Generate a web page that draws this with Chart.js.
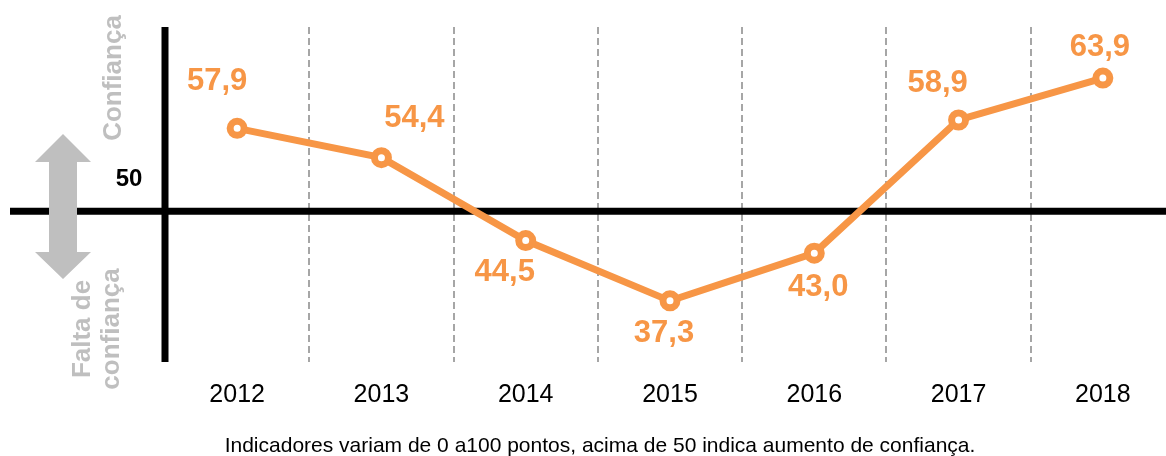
<!DOCTYPE html>
<html>
<head>
<meta charset="utf-8">
<script src="https://cdn.jsdelivr.net/npm/chart.js@4.4.1/dist/chart.umd.min.js"></script>
<style>
html, body { margin: 0; padding: 0; overflow: hidden; background: #fff; }
#wrap { width: 1166px; height: 456px; overflow: hidden; }
</style>
</head>
<body>
<div id="wrap"><canvas id="confChart" width="1175" height="456"></canvas></div>
<script>
var years = ['2012', '2013', '2014', '2015', '2016', '2017', '2018'];
var confidence = [57.9, 54.4, 44.5, 37.3, 43.0, 58.9, 63.9];
var yMin = 30;
var yMax = 70;
// the source draws its "50" line a little under the data's 50
var baseline = 48;
var baselineText = '50';
var upperText = 'Confiança';
var lowerText = ['Falta de', 'confiança'];
var caption = 'Indicadores variam de 0 a100 pontos, acima de 50 indica aumento de confiança.';

var orange = '#f79646';
var grey = '#bfbfbf';
var fontFamily = '"Liberation Sans", Arial, sans-serif';

Chart.defaults.font.family = fontFamily;

function fmt(v) {
    return v.toFixed(1).replace('.', ',');
}

var decor = {
    id: 'decor',
    beforeDatasetsDraw: function(chart) {
        var ctx = chart.ctx;
        var area = chart.chartArea;
        var y = chart.scales.y.getPixelForValue(baseline);
        ctx.save();
        ctx.strokeStyle = '#000';
        ctx.lineWidth = 7;
        ctx.beginPath();
        ctx.moveTo(10, y);
        ctx.lineTo(chart.width, y);
        ctx.moveTo(area.left, area.top);
        ctx.lineTo(area.left, area.bottom);
        ctx.stroke();
        ctx.restore();
    },
    afterDatasetsDraw: function(chart, args, opts) {
        var ctx = chart.ctx;
        var meta = chart.getDatasetMeta(0);
        ctx.save();
        ctx.fillStyle = orange;
        ctx.font = 'bold 31px ' + fontFamily;
        ctx.textAlign = 'center';
        ctx.textBaseline = 'middle';
        meta.data.forEach(function(pt, i) {
            var off = opts.offsets[i];
            ctx.fillText(fmt(confidence[i]), pt.x + off[0], pt.y + off[1]);
        });
        ctx.restore();
    },
    afterDraw: function(chart) {
        var ctx = chart.ctx;
        var yBase = chart.scales.y.getPixelForValue(baseline);
        ctx.save();

        // double arrow
        ctx.fillStyle = grey;
        ctx.beginPath();
        ctx.moveTo(63, 134);
        ctx.lineTo(91, 162);
        ctx.lineTo(77, 162);
        ctx.lineTo(77, 252);
        ctx.lineTo(91, 252);
        ctx.lineTo(63, 279);
        ctx.lineTo(35, 252);
        ctx.lineTo(49, 252);
        ctx.lineTo(49, 162);
        ctx.lineTo(35, 162);
        ctx.closePath();
        ctx.fill();

        // 50 marker
        ctx.fillStyle = '#000';
        ctx.font = 'bold 24px ' + fontFamily;
        ctx.textAlign = 'center';
        ctx.textBaseline = 'middle';
        ctx.fillText(baselineText, 129, yBase - 32);

        // rotated side texts
        ctx.fillStyle = grey;
        ctx.font = 'bold 26px ' + fontFamily;
        ctx.save();
        ctx.translate(114, 78);
        ctx.rotate(-Math.PI / 2);
        ctx.fillText(upperText, 0, 0);
        ctx.restore();
        ctx.save();
        ctx.translate(98, 329);
        ctx.rotate(-Math.PI / 2);
        ctx.fillText(lowerText[0], 0, -15);
        ctx.fillText(lowerText[1], 0, 14);
        ctx.restore();

        // caption
        ctx.fillStyle = '#000';
        ctx.font = '21px ' + fontFamily;
        ctx.fillText(caption, 600, 446);
        ctx.restore();
    }
};

new Chart(document.getElementById('confChart'), {
    type: 'line',
    data: {
        labels: years,
        datasets: [{
            data: confidence,
            borderColor: orange,
            borderWidth: 7,
            pointRadius: 7,
            pointHoverRadius: 7,
            pointBorderWidth: 7,
            pointBorderColor: orange,
            pointBackgroundColor: '#fff',
            tension: 0,
            clip: false
        }]
    },
    options: {
        responsive: false,
        animation: false,
        events: [],
        layout: { autoPadding: false, padding: { left: 165, right: 0, top: 27, bottom: 46 } },
        plugins: {
            legend: { display: false },
            tooltip: { enabled: false },
            decor: {
                offsets: [[-20, -47], [33, -39], [-21, 32], [-6, 33], [4, 34], [-21, -37], [-3, -31]]
            }
        },
        scales: {
            x: {
                offset: true,
                grid: {
                    offset: true,
                    drawTicks: true,
                    tickLength: 18,
                    tickColor: 'rgba(0,0,0,0)',
                    color: '#a6a6a6',
                    lineWidth: 2
                },
                border: { display: false, dash: [7, 4] },
                ticks: {
                    color: '#000',
                    font: { size: 25 },
                    padding: 0,
                    autoSkip: false,
                    maxRotation: 0
                }
            },
            y: {
                display: false,
                min: yMin,
                max: yMax
            }
        }
    },
    plugins: [decor]
});
</script>
</body>
</html>
